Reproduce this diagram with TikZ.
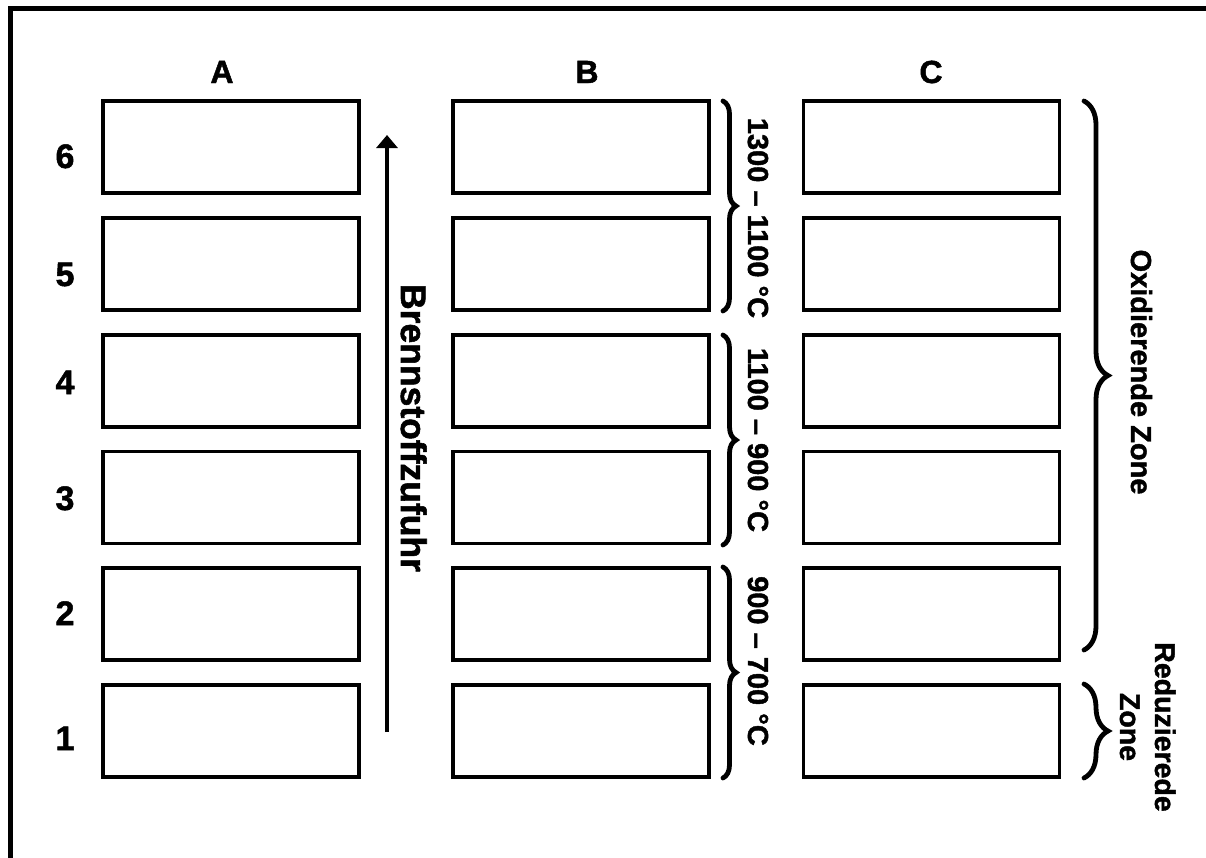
\documentclass[tikz,border=0pt]{standalone}
\usepackage{fontspec}
\setmainfont{Liberation Sans}[BoldFeatures={FakeBold=1.5}]
\usetikzlibrary{arrows.meta,decorations.pathreplacing}
\begin{document}
\begin{tikzpicture}[x=1pt,y=-1pt,
  cell/.style={draw, line width=3.5pt, minimum width=256pt, minimum height=92pt, inner sep=0pt},
  head/.style={font=\bfseries\fontsize{32}{36}\selectfont, anchor=base, inner sep=0pt},
  rownum/.style={font=\bfseries\fontsize{34}{38}\selectfont, anchor=base, inner sep=0pt},
  vlabel/.style={rotate=-90, anchor=base, inner sep=0pt},
  zbrace/.style={decorate, decoration={brace, amplitude=#1}, line width=4.8pt, line cap=round},
  frame/.style={line width=5pt},
]
\useasboundingbox (0,0) rectangle (1206,857);
\draw[frame] (1210,8) -- (10,8) -- (10,862);

\foreach \r/\y in {6/147,5/264,4/381,3/497.5,2/614,1/731}{
  \node[cell] (a\r) at (231,\y) {};
  \node[cell] (b\r) at (581,\y) {};
  \node[cell] (c\r) at (931.5,\y) {};
}

\node[head] (hA) at (222,83) {A};
\node[head] (hB) at (587,83) {B};
\node[head] (hC) at (931,83) {C};

\node[rownum] (n6) at (65,168) {6};
\node[rownum] (n5) at (65,286) {5};
\node[rownum] (n4) at (65,394) {4};
\node[rownum] (n3) at (65,510) {3};
\node[rownum] (n2) at (65,625) {2};
\node[rownum] (n1) at (65,750) {1};

\coordinate (fs) at (387,732);
\coordinate (fe) at (387,135);
\draw[line width=4pt, -{Triangle[width=21pt,length=13pt]}] (fs) -- (fe);
\node[vlabel, font=\bfseries\fontsize{35.5}{40}\selectfont] (fuel) at (401,428) {Brennstoffzufuhr};

\draw[zbrace=13pt] (723,101) -- (723,311);
\draw[zbrace=13pt] (723,335) -- (723,545);
\draw[zbrace=13pt] (723,567) -- (723,778);
\node[vlabel, font=\bfseries\fontsize{29}{34}\selectfont] (t1) at (748,218) {1300 – 1100 °C};
\node[vlabel, font=\bfseries\fontsize{29}{34}\selectfont] (t2) at (748,440) {1100 – 900 °C};
\node[vlabel, font=\bfseries\fontsize{29}{34}\selectfont] (t3) at (748,661) {900 – 700 °C};

\draw[zbrace=24pt] (1084,101) -- (1084,650);
\draw[zbrace=24pt] (1084,684) -- (1084,778);
\node[vlabel, font=\bfseries\fontsize{29}{34}\selectfont] (ox) at (1131,372) {Oxidierende Zone};
\node[vlabel, font=\bfseries\fontsize{28.5}{34}\selectfont] (red1) at (1155,727) {Reduzierede};
\node[vlabel, font=\bfseries\fontsize{28.5}{34}\selectfont] (red2) at (1120,727) {Zone};
\end{tikzpicture}
\end{document}
